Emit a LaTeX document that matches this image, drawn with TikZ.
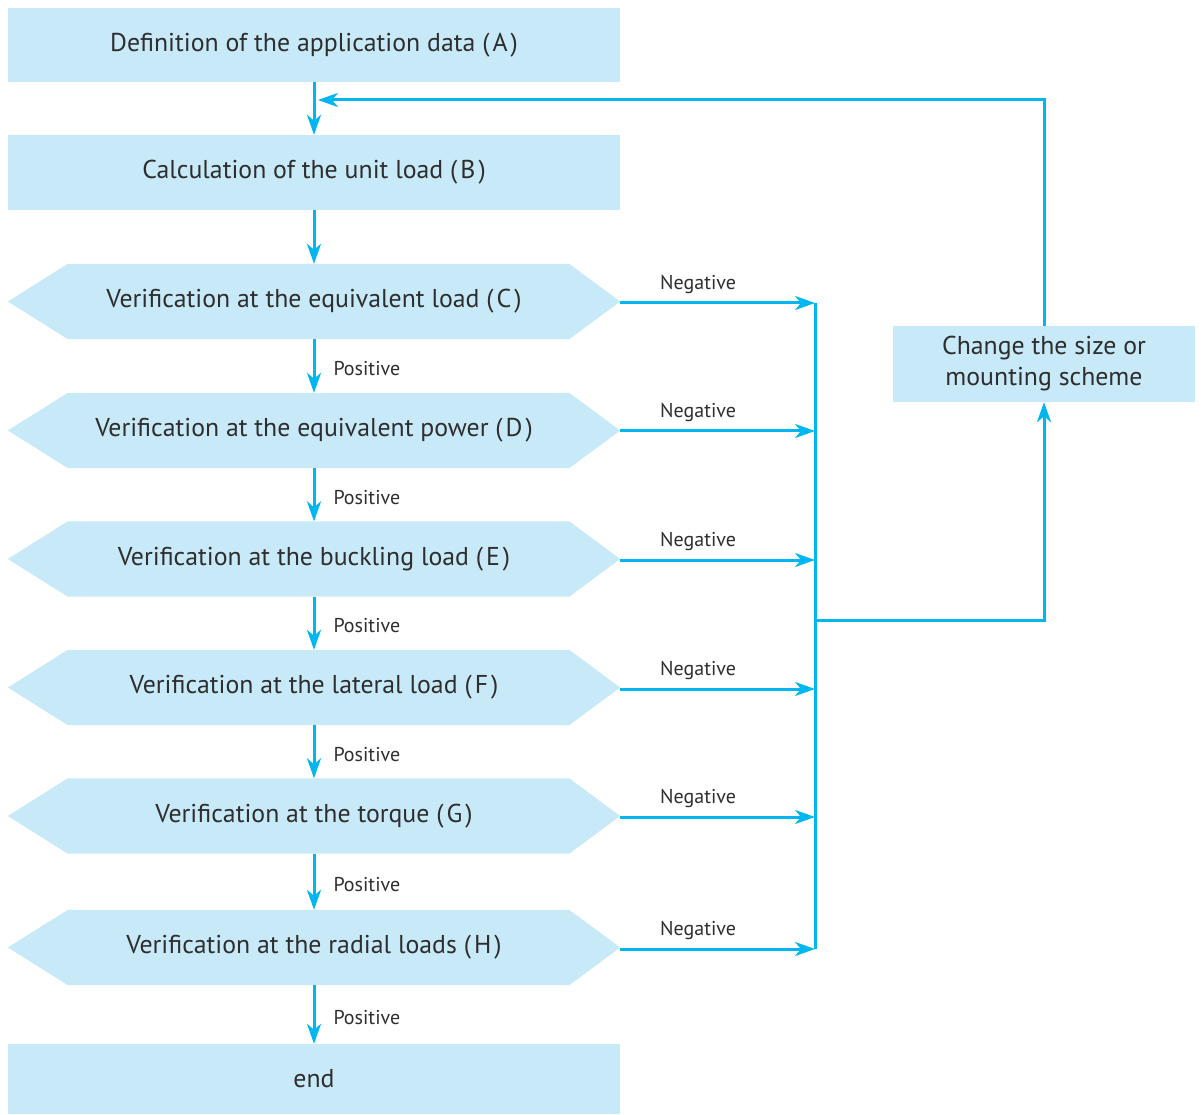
\documentclass[tikz,border=0pt]{standalone}
\usepackage{fontspec}
\setmainfont{PT Sans}
\usetikzlibrary{arrows.meta,backgrounds}
\definecolor{boxfill}{HTML}{C7E9F8}
\definecolor{linec}{HTML}{00B6F0}
\definecolor{txt}{HTML}{2E2E2E}
\newcommand{\lab}[1]{(\hspace{3pt}#1\hspace{3pt})}
\tikzset{
  every node/.style={text=txt},
  rectbox/.style={rectangle, fill=boxfill, minimum width=612pt, minimum height=75pt, inner sep=0pt, font=\fontsize{25.8}{31}\selectfont},
  hexbox/.style={rectangle, minimum width=612pt, minimum height=75pt, inner sep=0pt, font=\fontsize{25.8}{31}\selectfont},
  conn/.style={draw=linec, line width=3pt, -{Stealth[length=20pt,width=14pt,inset=6pt]}},
  plainline/.style={draw=linec, line width=3pt},
  small/.style={font=\fontsize{20}{22}\selectfont, inner sep=0pt},
}
\newcommand{\hexfill}[1]{%
  \fill[boxfill] (#1.west) -- ([xshift=60pt]#1.north west) -- ([xshift=-51pt]#1.north east) -- (#1.east) -- ([xshift=-51pt]#1.south east) -- ([xshift=60pt]#1.south west) -- cycle;}
\begin{document}
\begin{tikzpicture}[x=1pt,y=-1pt]
\useasboundingbox (0,0) rectangle (1203,1115);
\node[rectbox, minimum height=74pt] (A) at (314,45) {Definition of the application data \lab{A}};
\node[rectbox] (B) at (314,172.5) {Calculation of the unit load \lab{B}};
\node[hexbox] (C) at (314,301.5) {Verification at the equivalent load \lab{C}};
\node[hexbox] (D) at (314,430.5) {Verification at the equivalent power \lab{D}};
\node[hexbox] (E) at (314,559) {Verification at the buckling load \lab{E}};
\node[hexbox] (F) at (314,687.5) {Verification at the lateral load \lab{F}};
\node[hexbox] (G) at (314,816) {Verification at the torque \lab{G}};
\node[hexbox] (H) at (314,947.5) {Verification at the radial loads \lab{H}};
\node[rectbox, minimum height=70pt] (End) at (314,1079) {end};
\node[rectbox, minimum width=302pt, minimum height=76pt, align=center] (Chg) at (1044,364) {Change the size or\\mounting scheme};
\begin{scope}[on background layer]
\hexfill{C}\hexfill{D}\hexfill{E}\hexfill{F}\hexfill{G}\hexfill{H}
\end{scope}
% vertical flow
\draw[conn] (A) -- (B);
\draw[conn] (B) -- (C);
\draw[conn] (C) -- node[small, right=18pt, pos=0.55]{Positive} (D);
\draw[conn] (D) -- node[small, right=18pt, pos=0.55]{Positive} (E);
\draw[conn] (E) -- node[small, right=18pt, pos=0.55]{Positive} (F);
\draw[conn] (F) -- node[small, right=18pt, pos=0.55]{Positive} (G);
\draw[conn] (G) -- node[small, right=18pt, pos=0.55]{Positive} (H);
\draw[conn] (H) -- node[small, right=18pt, pos=0.55]{Positive} (End);
% negative branches
\coordinate (busC) at (815,303);
\coordinate (busH) at (815,949);
\coordinate (junc) at (815,620);
\coordinate (turn) at (1044,620);
\coordinate (top) at (1044,100);
\coordinate (topin) at (318,100);
\foreach \n/\y in {C/303,D/431,E/560,F/689,G/817,H/949}{
  \coordinate (neg\n) at (815,\y);
  \draw[conn] (\n.east |- neg\n) -- node[small, above=8pt, pos=0.4]{Negative} (neg\n);
}
\draw[plainline] (busC) -- (busH);
\draw[conn] (junc) -- (turn) -- (Chg.south);
\draw[conn] (Chg.north) -- (top) -- (topin);
\end{tikzpicture}
\end{document}
